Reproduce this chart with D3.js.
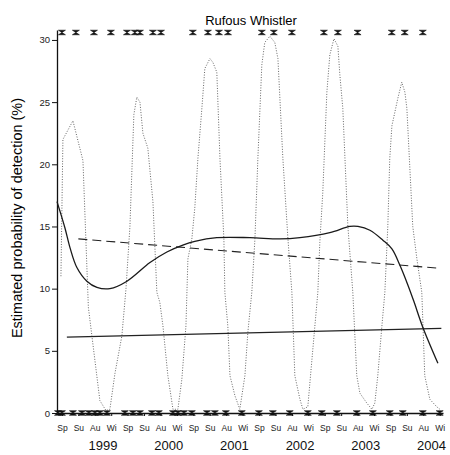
<!DOCTYPE html>
<html>
<head>
<meta charset="utf-8">
<script src="https://cdn.jsdelivr.net/npm/d3@7"></script>
<style>
  html, body { margin: 0; padding: 0; background: #fff; }
  svg { display: block; font-family: "Liberation Sans", Arial, sans-serif; }
</style>
</head>
<body>
<svg id="chart" width="450" height="455"></svg>
<script>
// Season positions: 0 = Spring 1999, 1 = Summer, 2 = Autumn, 3 = Winter, 4 = Spring 2000 ...
const seasonNames = ["Sp", "Su", "Au", "Wi"];
const yearLabels = ["1999", "2000", "2001", "2002", "2003", "2004"];
const yearPositions = [2.5, 6.5, 10.5, 14.5, 18.5, 22.5];
const yTicks = [0, 5, 10, 15, 20, 25, 30];

// Survey outcomes: detected (plotted at top) and not detected (plotted at zero)
const detectedT = [0, 0.85, 1.95, 2.98, 3.96, 4.44, 4.75, 5.54, 6.03, 7.97, 8.89, 9.56, 10.11,
  12.17, 12.9, 14.0, 15.95, 16.8, 18.0, 20.08, 20.87, 21.97];
const notDetectedT = [-0.24, 0, 0.67, 1.22, 1.64, 2.01, 2.31, 2.74, 3.83, 4.32, 4.75, 5.48, 5.9,
  6.76, 7.06, 7.43, 7.91, 8.83, 9.31, 9.98, 10.95, 11.99, 12.84, 13.87, 14.97, 15.82, 16.74,
  17.95, 18.93, 19.96, 20.75, 21.97, 23.0];
const detectedLevel = 30.6;
const notDetectedLevel = 0;

// Seasonal model (dotted)
const seasonalT = [-0.06, 0.06, 0.67, 1.28, 1.61, 2.31, 2.68, 2.92, 3.23, 3.65, 3.90, 4.14, 4.38,
  4.56, 4.75, 4.93, 5.23, 5.54, 5.78, 5.96, 6.15, 6.45, 6.76, 7.06, 7.30, 7.55, 7.67, 7.91, 8.09,
  8.28, 8.52, 8.70, 9.01, 9.19, 9.43, 9.62, 9.86, 9.92, 10.10, 10.23, 10.53, 10.83, 11.14, 11.32,
  11.56, 11.75, 11.93, 12.17, 12.35, 12.66, 12.96, 13.15, 13.45, 13.76, 14.00, 14.18, 14.49,
  14.67, 14.97, 15.22, 15.58, 15.70, 15.88, 16.13, 16.31, 16.56, 16.80, 16.92, 17.10, 17.41,
  17.71, 17.95, 18.14, 18.56, 18.87, 19.05, 19.23, 19.48, 19.66, 19.84, 19.96, 20.09, 20.45,
  20.69, 20.88, 21.00, 21.36, 21.61, 21.91, 22.09, 22.40, 22.82, 23.01];
const seasonalP = [11.0, 22.0, 23.5, 20.3, 8.5, 1.0, 0.2, 0.3, 3.2, 6.2, 10.0, 15.0, 24.0,
  25.4, 25.0, 22.5, 21.3, 17.0, 9.7, 8.9, 7.0, 3.0, 0.3, 0.3, 2.7, 7.0, 12.4, 14.0, 16.5,
  20.5, 24.5, 27.7, 28.5, 28.2, 27.4, 20.5, 14.0, 9.7, 7.0, 3.0, 1.4, 0.3, 3.0, 6.5,
  9.7, 14.0, 20.5, 28.0, 29.8, 30.3, 29.8, 28.5, 20.5, 14.0, 9.7, 3.0, 1.1,
  0.3, 0.5, 4.3, 9.7, 13.7, 17.7, 25.8, 28.8, 30.1, 29.5, 27.2, 24.5, 15.0,
  9.7, 3.0, 1.6, 0.8, 0.3, 0.8, 3.0, 7.0, 9.7, 15.0, 20.5, 23.1, 25.3,
  26.6, 25.8, 24.5, 15.0, 12.4, 9.7, 3.0, 1.1, 0.5, 0.3];

// Smooth trend (solid curve)
const smoothT = [-0.30, 0.18, 0.49, 0.91, 1.52, 2.13, 2.92, 3.96, 5.36, 6.39, 7.36, 8.09, 9.43,
  11.44, 13.27, 14.49, 16.31, 17.53, 18.02, 18.75, 19.54, 20.09, 20.57, 21.06, 21.42,
  21.97, 22.89];
const smoothP = [17.0, 14.9, 13.3, 11.7, 10.6, 10.1, 10.0, 10.6, 12.1, 12.95, 13.5, 13.8, 14.1,
  14.1, 14.0, 14.1, 14.5, 15.0, 15.0, 14.7, 13.9, 13.2, 11.9, 10.3, 9.0,
  6.9, 4.0];

// Linear trends: dashed and solid straight lines
const dashedT = [1.0, 22.9];
const dashedP = [14.0, 11.65];
const straightT = [0.3, 23.1];
const straightP = [6.1, 6.8];

const svg = d3.select("#chart");
const x = d3.scaleLinear().domain([-0.3, 23.2]).range([57, 443]);
const y = d3.scaleLinear().domain([0, 30.8]).range([413, 30]);

// Title
svg.append("text")
  .attr("x", 251).attr("y", 25)
  .attr("text-anchor", "middle")
  .attr("font-size", 13)
  .attr("fill", "#000")
  .text("Rufous Whistler");

// Y axis label
svg.append("text")
  .attr("transform", "translate(22,218) rotate(-90)")
  .attr("text-anchor", "middle")
  .attr("font-size", 14.5)
  .attr("fill", "#000")
  .text("Estimated probability of detection (%)");

// Axes
const yAxis = svg.append("g")
  .attr("transform", "translate(57,0)")
  .call(d3.axisLeft(y).tickValues(yTicks).tickSize(5).tickSizeOuter(0).tickPadding(2));
yAxis.selectAll("text").attr("font-size", 9.5).attr("fill", "#222");

const xAxis = svg.append("g")
  .attr("transform", "translate(0,413)")
  .call(d3.axisBottom(x).tickValues(d3.range(24)).tickFormat(i => seasonNames[i % 4])
    .tickSize(3).tickSizeOuter(0).tickPadding(9));
xAxis.selectAll("text").attr("font-size", 8.5).attr("fill", "#222");
[yAxis, xAxis].forEach(g => {
  g.select(".domain").attr("stroke", "#111").attr("stroke-width", 1.3);
  g.selectAll(".tick line").attr("stroke", "#111");
});

svg.append("g").selectAll("text")
  .data(yearLabels)
  .join("text")
  .attr("x", (d, i) => x(yearPositions[i]))
  .attr("y", 450)
  .attr("text-anchor", "middle")
  .attr("font-size", 13)
  .attr("fill", "#111")
  .text(d => d);

const line = d3.line().x(d => x(d[0])).y(d => y(d[1]));
const zip = (a, b) => a.map((v, i) => [v, b[i]]);

// Seasonal model (dotted)
svg.append("path")
  .attr("d", line(zip(seasonalT, seasonalP)))
  .attr("fill", "none")
  .attr("stroke", "#666")
  .attr("stroke-width", 1)
  .attr("stroke-dasharray", "1,1.6");

// Dashed linear trend
svg.append("path")
  .attr("d", line(zip(dashedT, dashedP)))
  .attr("fill", "none")
  .attr("stroke", "#222")
  .attr("stroke-width", 1.1)
  .attr("stroke-dasharray", "9,5");

// Straight solid trend
svg.append("path")
  .attr("d", line(zip(straightT, straightP)))
  .attr("fill", "none")
  .attr("stroke", "#222")
  .attr("stroke-width", 1.2);

// Smooth trend
svg.append("path")
  .attr("d", d3.line().x(d => x(d[0])).y(d => y(d[1])).curve(d3.curveCatmullRom.alpha(0.5))(zip(smoothT, smoothP)))
  .attr("fill", "none")
  .attr("stroke", "#1a1a1a")
  .attr("stroke-width", 1.3);

// Hourglass marker for survey outcomes
const hourglass = {
  draw(ctx, size) {
    const w = Math.sqrt(size) / 2, h = w * 0.65;
    ctx.moveTo(-w, -h); ctx.lineTo(w, -h); ctx.lineTo(-w, h); ctx.lineTo(w, h); ctx.closePath();
  }
};
const marker = d3.symbol().type(hourglass).size(49);

const surveys = detectedT.map(t => [t, detectedLevel])
  .concat(notDetectedT.map(t => [t, notDetectedLevel]));
svg.append("g").selectAll("path")
  .data(surveys)
  .join("path")
  .attr("transform", d => `translate(${x(d[0])},${y(d[1])})`)
  .attr("d", marker)
  .attr("fill", "#111")
  .attr("stroke", "#111")
  .attr("stroke-width", 0.6);
</script>
</body>
</html>
